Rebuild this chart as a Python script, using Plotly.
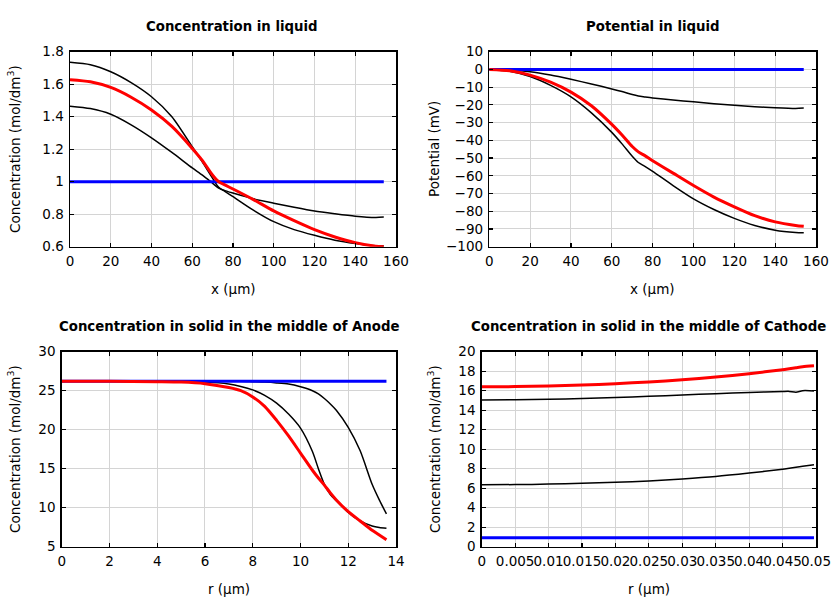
import plotly.graph_objects as go

# ---------------- data ----------------
# Concentration in liquid (mol/dm3) vs x (um)
x_liq = [0, 10, 20, 30, 40, 50, 60, 65, 70, 73, 76, 80, 90, 100, 110, 120, 130, 140, 150, 154]
cl_black_hi = [1.735, 1.72, 1.677, 1.61, 1.523, 1.40, 1.215, 1.12, 1.02, 0.965, 0.94, 0.908, 0.825, 0.754,
               0.705, 0.67, 0.64, 0.62, 0.606, 0.604]
cl_black_lo = [1.465, 1.45, 1.415, 1.35, 1.27, 1.18, 1.085, 1.04, 0.99, 0.96, 0.945, 0.93, 0.895, 0.868,
               0.843, 0.82, 0.803, 0.788, 0.78, 0.782]
cl_blue = [1.0] * len(x_liq)
cl_red = [1.628, 1.615, 1.58, 1.52, 1.441, 1.34, 1.205, 1.13, 1.04, 1.0, 0.98, 0.955, 0.89, 0.82,
          0.76, 0.705, 0.66, 0.625, 0.603, 0.60]

# Potential in liquid (mV) vs x (um)
pl_black_top = [0, -0.3, -1.3, -3.2, -5.6, -8.2, -11, -12.5, -14.2, -15, -15.5, -16.1, -17.3, -18.3,
                -19.3, -20.2, -21, -21.6, -22, -21.8]
pl_black_bot = [0, -1, -4, -9, -15.5, -24.5, -35.5, -42, -49, -52.5, -54.5, -57.5, -65.5, -73,
                -79, -84, -88, -90.7, -92, -92.2]
pl_blue = [0.0] * len(x_liq)
pl_red = [0, -0.8, -3.2, -7.2, -12.8, -20.5, -31, -37, -43.5, -46.5, -48.5, -51.5, -58.5, -65.5,
          -72, -77.5, -82.5, -86, -88, -88.5]

# Concentration in solid, middle of anode vs r (um)
r_an = [0, 2, 4, 5, 6, 7, 7.5, 8, 8.5, 9, 9.5, 10, 10.5, 10.75, 11, 11.25, 11.5, 12, 12.5, 13, 13.3, 13.6]
an_black_mid = [26.2, 26.2, 26.2, 26.15, 26.1, 25.85, 25.55, 25.1, 24.4, 23.4, 22.0, 20.2, 17.2, 15.0,
                13.0, 11.7, 10.9, 9.4, 8.3, 7.65, 7.45, 7.35]
an_black_out = [26.2, 26.2, 26.2, 26.2, 26.2, 26.2, 26.2, 26.15, 26.1, 26.0, 25.85, 25.5, 25.0, 24.6,
                24.0, 23.3, 22.5, 20.3, 17.3, 13.0, 11.0, 9.2]
an_blue = [26.2] * len(r_an)
an_red = [26.2, 26.2, 26.15, 26.1, 25.9, 25.4, 25.0, 24.2, 23.0, 21.2, 19.2, 17.0, 14.8, 13.8,
          12.9, 11.9, 11.0, 9.5, 8.3, 7.1, 6.5, 5.9]

# Concentration in solid, middle of cathode vs r (um)
r_ca = [0, 0.005, 0.01, 0.015, 0.02, 0.025, 0.03, 0.035, 0.04, 0.045, 0.046, 0.047, 0.048, 0.0497]
ca_black_hi = [15.05, 15.07, 15.12, 15.2, 15.3, 15.42, 15.55, 15.7, 15.82, 15.92, 15.93, 15.85, 16.0, 15.98]
ca_black_lo = [6.35, 6.37, 6.42, 6.5, 6.6, 6.75, 6.95, 7.2, 7.55, 7.95, 8.05, 8.15, 8.25, 8.4]
ca_blue = [0.93] * len(r_ca)
ca_red = [16.4, 16.42, 16.48, 16.58, 16.72, 16.9, 17.12, 17.4, 17.75, 18.15, 18.25, 18.35, 18.45, 18.55]

ticks_ca = [0, 0.005, 0.01, 0.015, 0.02, 0.025, 0.03, 0.035, 0.04, 0.045, 0.05]
ticktext_ca = ["0", "0.005", "0.01", "0.015", "0.02", "0.025", "0.03", "0.035", "0.04", "0.045", "0.05"]

# ---------------- figure ----------------
W, H = 840, 600
FONT = "DejaVu Sans"
fig = go.Figure()

panels = [
    dict(x=x_liq, series=[cl_black_hi, cl_black_lo, cl_blue, cl_red], ax=""),
    dict(x=x_liq, series=[pl_black_top, pl_black_bot, pl_blue, pl_red], ax="2"),
    dict(x=r_an, series=[an_black_mid, an_black_out, an_blue, an_red], ax="3"),
    dict(x=r_ca, series=[ca_black_hi, ca_black_lo, ca_blue, ca_red], ax="4"),
]
styles = [("black", 1.5), ("black", 1.5), ("#0000ff", 3), ("#ff0000", 3)]
for p in panels:
    for ys, (c, w) in zip(p["series"], styles):
        fig.add_trace(go.Scatter(x=p["x"], y=ys, mode="lines",
                                 line=dict(color=c, width=w, shape="spline", smoothing=0.7),
                                 xaxis="x" + p["ax"], yaxis="y" + p["ax"], showlegend=False,
                                 hoverinfo="skip"))

# plot-area boxes in pixels: (left, right, top, bottom)
boxes = [(70, 396, 51.7, 246.7), (489.3, 816, 51.7, 246.7),
         (61.7, 396, 351.7, 546.7), (481.7, 816, 351.7, 546.7)]

def dom_x(l, r):
    return [l / W, r / W]

def dom_y(t, b):
    return [1 - b / H, 1 - t / H]

common = dict(showline=True, linecolor="black", linewidth=1.5, mirror="ticks",
              ticks="inside", ticklen=4, tickcolor="black", tickwidth=1.2,
              showgrid=True, gridcolor="#d4d4d4", gridwidth=1, zeroline=False,
              automargin=False, tickangle=0, ticklabelstandoff=2,
              tickfont=dict(family=FONT, size=13.5, color="black"))

xranges = [[0, 160], [0, 160], [0, 14], [0, 0.05]]
yranges = [[0.6, 1.8], [-100, 10], [5, 30], [0, 20]]
xdt = [20, 20, 2, None]
ydt = [0.2, 10, 5, 2]

layout = dict(width=W, height=H, margin=dict(l=0, r=0, t=0, b=0, autoexpand=False),
              template="none",
              paper_bgcolor="white", plot_bgcolor="white", showlegend=False)
for i, (l, r, t, b) in enumerate(boxes):
    suf = "" if i == 0 else str(i + 1)
    xa = dict(common, domain=dom_x(l, r), range=xranges[i], anchor="y" + suf)
    ya = dict(common, domain=dom_y(t, b), range=yranges[i], anchor="x" + suf,
              dtick=ydt[i], tick0=0)
    if xdt[i] is not None:
        xa.update(dtick=xdt[i], tick0=0)
    else:
        xa.update(tickmode="array", tickvals=ticks_ca, ticktext=ticktext_ca)
    if i == 0:
        ya.update(tickformat="~g")
    layout["xaxis" + suf] = xa
    layout["yaxis" + suf] = ya

fig.update_layout(**layout)

titles = ["Concentration in liquid", "Potential in liquid",
          "Concentration in solid in the middle of Anode",
          "Concentration in solid in the middle of Cathode"]
title_pos = [(232, 26), (652.7, 26), (229, 326), (648.7, 326)]
xtitles = ["x (μm)", "x (μm)", "r (μm)", "r (μm)"]
xt_pos = [(233, 289), (652.7, 289), (229, 589), (648.7, 589)]
ytitles = ["Concentration (mol/dm<sup>3</sup>)", "Potential (mV)",
           "Concentration (mol/dm<sup>3</sup>)", "Concentration (mol/dm<sup>3</sup>)"]
yt_pos = [(14, 149), (434, 149), (14, 449), (434, 449)]

ann = []
for s, (px, py) in zip(titles, title_pos):
    ann.append(dict(text="<b>" + s + "</b>", x=px / W, y=1 - py / H, xref="paper", yref="paper",
                    showarrow=False, xanchor="center", yanchor="middle",
                    font=dict(family=FONT, size=13.3, color="black")))
for s, (px, py) in zip(xtitles, xt_pos):
    ann.append(dict(text=s, x=px / W, y=1 - py / H, xref="paper", yref="paper",
                    showarrow=False, xanchor="center", yanchor="middle",
                    font=dict(family=FONT, size=13.5, color="black")))
for s, (px, py) in zip(ytitles, yt_pos):
    ann.append(dict(text=s, x=px / W, y=1 - py / H, xref="paper", yref="paper",
                    showarrow=False, xanchor="center", yanchor="middle", textangle=-90,
                    font=dict(family=FONT, size=13.5, color="black")))
fig.update_layout(annotations=ann)

fig.write_html("out.html", config={"displayModeBar": False, "staticPlot": True},
               post_script="document.body.style.margin='0';document.body.style.overflow='hidden';")
